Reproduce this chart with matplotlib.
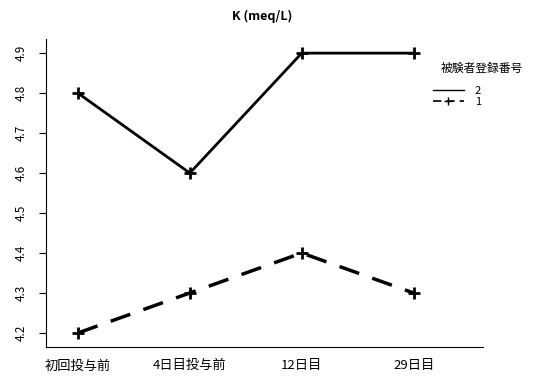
import matplotlib
matplotlib.use("Agg")
import matplotlib.pyplot as plt
from matplotlib.lines import Line2D

plt.rcParams['font.family'] = ['Noto Sans CJK JP', 'DejaVu Sans']

# data
visits = ['初回投与前', '4日目投与前', '12日目', '29日目']
subj_2 = [4.8, 4.6, 4.9, 4.9]
subj_1 = [4.2, 4.3, 4.4, 4.3]
yticks = [4.2, 4.3, 4.4, 4.5, 4.6, 4.7, 4.8, 4.9]

x = list(range(1, len(visits) + 1))

fig = plt.figure(figsize=(5.47, 3.8), dpi=100)
ax = fig.add_axes([0.084, 0.087, 0.799, 0.810])

ax.plot(x, subj_2, color='black', lw=2, marker='+', ms=8, mew=2)
ax.plot(x, subj_1, color='black', lw=2.5, marker='+', ms=8, mew=2, dashes=(6, 4))

ax.set_xlim(0.714, 4.62)
ax.set_ylim(4.165, 4.935)
ax.set_xticks(x)
ax.set_xticklabels(visits, fontsize=9.5)
ax.tick_params(axis='x', length=0, pad=9)
ax.set_yticks(yticks)
ax.set_yticklabels([f'{v:.1f}' for v in yticks], rotation=90, va='center', fontsize=8.5)
ax.tick_params(axis='y', length=5, pad=8)

ax.spines['top'].set_visible(False)
ax.spines['right'].set_visible(False)

ax.set_title('K (meq/L)', fontsize=9, fontweight='bold', pad=14, x=0.494)

# legend handles in R interaction.plot style
handles = [Line2D([], [], color='black', lw=1),
           Line2D([], [], color='black', lw=1.2, marker='+', ms=6, dashes=(5, 3))]
leg = ax.legend(handles, ['2', '1'], title='被験者登録番号', loc='upper left',
                bbox_to_anchor=(0.875, 0.94), frameon=False, fontsize=8,
                title_fontsize=8.5, handlelength=2.8, handletextpad=1.0,
                labelspacing=0.05, borderaxespad=0)
leg._legend_box.align = 'left'
leg._legend_box.sep = 8
leg.get_title().set_position((8, 0))

fig.savefig('out.png', dpi=100)
